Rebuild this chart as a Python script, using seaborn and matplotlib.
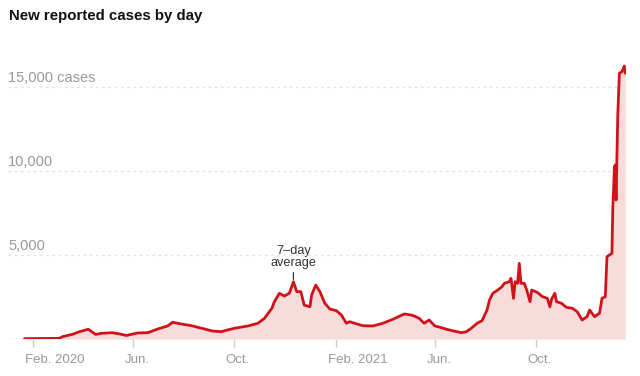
import pandas as pd
import numpy as np
import matplotlib
matplotlib.use("Agg")
import matplotlib.pyplot as plt
import matplotlib.dates as mdates
import matplotlib.transforms as mtransforms
import seaborn as sns

# 7-day average of new reported cases
dates = [
    "2020-01-22", "2020-03-04", "2020-03-08", "2020-03-20", "2020-03-28", "2020-04-03",
    "2020-04-08", "2020-04-11", "2020-04-17", "2020-04-24", "2020-05-07", "2020-05-16",
    "2020-05-24", "2020-06-07", "2020-06-19", "2020-07-01", "2020-07-13", "2020-07-19",
    "2020-07-30", "2020-08-11", "2020-08-23", "2020-09-05", "2020-09-16", "2020-09-23",
    "2020-10-02", "2020-10-18", "2020-10-30", "2020-11-07", "2020-11-16", "2020-11-19",
    "2020-11-25", "2020-12-01", "2020-12-07", "2020-12-12", "2020-12-16", "2020-12-21",
    "2020-12-25", "2021-01-01", "2021-01-03", "2021-01-08", "2021-01-13", "2021-01-19",
    "2021-01-25", "2021-02-02", "2021-02-08", "2021-02-14", "2021-02-18", "2021-02-24",
    "2021-03-06", "2021-03-18", "2021-03-30", "2021-04-11", "2021-04-25", "2021-05-05",
    "2021-05-13", "2021-05-19", "2021-05-25", "2021-06-01", "2021-06-07", "2021-06-15",
    "2021-06-22", "2021-07-03", "2021-07-09", "2021-07-15", "2021-07-22", "2021-07-28",
    "2021-08-03", "2021-08-06", "2021-08-10", "2021-08-16", "2021-08-21", "2021-08-24",
    "2021-08-30", "2021-09-01", "2021-09-04", "2021-09-06", "2021-09-09", "2021-09-11",
    "2021-09-13", "2021-09-17", "2021-09-20", "2021-09-24", "2021-09-26", "2021-10-03",
    "2021-10-09", "2021-10-15", "2021-10-18", "2021-10-20", "2021-10-24", "2021-10-26",
    "2021-11-01", "2021-11-07", "2021-11-14", "2021-11-20", "2021-11-26", "2021-12-02",
    "2021-12-05", "2021-12-11", "2021-12-17", "2021-12-20", "2021-12-24", "2021-12-26",
    "2022-01-01", "2022-01-02", "2022-01-04", "2022-01-05", "2022-01-06", "2022-01-08",
    "2022-01-10", "2022-01-13", "2022-01-16", "2022-01-17",
]
cases = [
    20, 40, 140, 280, 430, 510,
    580, 480, 270, 340, 375, 300,
    210, 360, 375, 595, 775, 995,
    890, 790, 640, 475, 435, 535,
    640, 775, 935, 1230, 1830, 2220,
    2720, 2560, 2720, 3410, 2820, 2820,
    2020, 1920, 2620, 3210, 2820, 2125,
    1785, 1685, 1430, 935, 1030, 935,
    790, 775, 935, 1170, 1490, 1410,
    1230, 935, 1130, 775, 700, 580,
    495, 375, 435, 640, 935, 1090,
    1725, 2320, 2720, 2915, 3110, 3315,
    3410, 3610, 2420, 3410, 3315, 4505,
    3315, 3315, 2915, 2220, 2915, 2770,
    2520, 2420, 1920, 2365, 2720, 2220,
    2125, 1885, 1830, 1625, 1130, 1330,
    1725, 1330, 1530, 2420, 2520, 4900,
    5100, 7680, 10255, 10355, 8270, 13230,
    15815, 15910, 16250, 15815,
]

grid_values = [5000, 10000, 15000]
grid_labels = ["5,000", "10,000", "15,000 cases"]
tick_dates = ["2020-02-01", "2020-06-01", "2020-10-01", "2021-02-01", "2021-06-01", "2021-10-01"]
tick_labels = ["Feb. 2020", "Jun.", "Oct.", "Feb. 2021", "Jun.", "Oct."]

df = pd.DataFrame({"date": pd.to_datetime(dates), "cases": cases})

sns.set_style("white")
plt.rcParams["font.family"] = ["Liberation Sans", "DejaVu Sans"]

line_color = "#d0121b"
fill_color = "#f8dcdc"

fig = plt.figure(figsize=(6.4, 3.76), dpi=100)
ax = fig.add_axes([8 / 640, 1 - 339 / 376, 618 / 640, 284 / 376])

ax.fill_between(df["date"], 0, df["cases"], color=fill_color, lw=0, zorder=1)
sns.lineplot(data=df, x="date", y="cases", color=line_color, lw=2, ax=ax, zorder=3)

ax.set_xlim(pd.Timestamp("2020-01-02"), pd.Timestamp("2022-01-18"))
ax.set_ylim(0, 16905)

# dotted gridlines with labels sitting on top of them
lab_tr = mtransforms.blended_transform_factory(ax.transAxes, ax.transData)
for v, lab in zip(grid_values, grid_labels):
    ax.axhline(v, color="#e3e3e3", lw=1, ls=(0, (2, 2.5)), zorder=0)
    ax.text(0, v, lab, transform=lab_tr + mtransforms.ScaledTranslation(0, 5 / 100, fig.dpi_scale_trans),
            ha="left", va="baseline", fontsize=10.5, color="#999999")
ax.axhline(0, color="#dddddd", lw=1, zorder=2)

for s in ax.spines.values():
    s.set_visible(False)
ax.set_yticks([])
ax.set_xlabel("")
ax.set_ylabel("")

ax.set_xticks(pd.to_datetime(tick_dates))
ax.set_xticklabels(tick_labels, fontsize=9.5, color="#999999", ha="left")
ax.tick_params(axis="x", length=6, width=1, color="#cccccc", pad=5, bottom=True)
shift = mtransforms.ScaledTranslation(-8 / 100, 0, fig.dpi_scale_trans)
for lbl in ax.get_xticklabels():
    lbl.set_transform(lbl.get_transform() + shift)

# annotation for the line
peak_date = pd.Timestamp("2020-12-12")
ax.annotate("7\u2013day\naverage", xy=(peak_date, 3550), xytext=(peak_date, 4150),
            ha="center", va="bottom", fontsize=9.2, color="#333333", linespacing=1.0,
            arrowprops=dict(arrowstyle="-", color="#333333", lw=0.9, shrinkA=0, shrinkB=0))

fig.text(9 / 640, 1 - 16 / 376, "New reported cases by day", ha="left", va="center",
         fontsize=10.8, fontweight="bold", color="#121212")

plt.savefig("out.png", dpi=100)
plt.close()
